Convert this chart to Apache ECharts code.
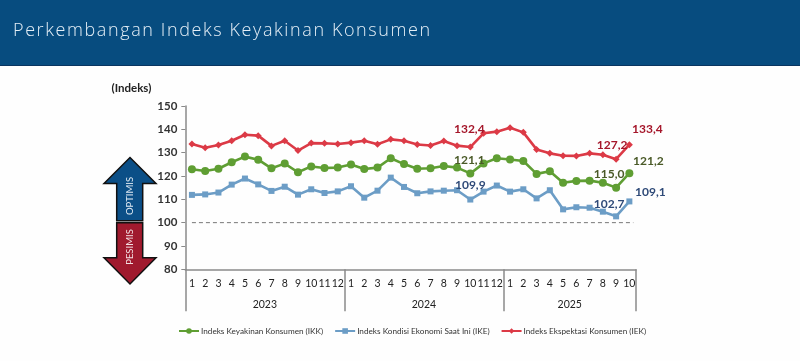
<!DOCTYPE html>
<html>
<head>
<meta charset="utf-8">
<title>Perkembangan Indeks Keyakinan Konsumen</title>
<script src="https://cdn.jsdelivr.net/npm/echarts@6/dist/echarts.min.js"></script>
<style>
    html, body { margin: 0; padding: 0; background: #fff; }
    #wrap { position: relative; width: 800px; height: 361px; overflow: hidden; }
    #chart { position: absolute; left: 0; top: 0; width: 800px; height: 361px; }
    #title {
        position: absolute; left: 13px; top: 17px; margin: 0;
        font: 300 18px "Open Sans", sans-serif; letter-spacing: 1.6px;
        color: #e4eef6; white-space: nowrap;
    }
</style>
</head>
<body>
<div id="wrap">
    <div id="chart"></div>
    <h1 id="title">Perkembangan Indeks Keyakinan Konsumen</h1>
</div>
<script>
    var months = ['1','2','3','4','5','6','7','8','9','10','11','12',
                  '1','2','3','4','5','6','7','8','9','10','11','12',
                  '1','2','3','4','5','6','7','8','9','10'];
    var years = ['2023', '2024', '2025'];
    var yearStart = [0, 12, 24, 34];

    var ikk = [122.9,122.1,123.1,125.9,128.3,127.0,123.3,125.3,121.6,124.1,123.4,123.6,
               124.9,123.0,123.6,127.6,125.1,123.1,123.3,124.3,123.6,121.1,125.4,127.6,
               127.1,126.4,120.9,122.0,117.1,117.9,118.0,117.1,115.0,121.2];
    var ike = [111.9,112.1,112.9,116.3,118.9,116.4,113.6,115.4,112.0,114.3,112.7,113.4,
               115.6,110.7,113.7,119.3,115.3,112.6,113.4,113.7,113.9,109.9,113.3,115.9,
               113.3,114.3,110.4,113.9,105.7,106.6,106.4,104.7,102.7,109.1];
    var iek = [133.7,132.1,133.3,135.1,137.7,137.3,132.9,135.1,130.9,134.1,134.0,133.7,
               134.3,135.1,133.6,135.7,135.1,133.5,133.1,135.0,133.0,132.4,138.3,139.0,
               140.7,138.7,131.4,129.7,128.7,128.6,129.7,129.1,127.2,133.4];

    var baseline = [[0.5, 100], [33.8, 100]];

    // label offsets, index of the month -> [dx, dy]
    var ikkLabels = { 21: [-1, 1], 32: [-7, 0], 33: [19, 2] };
    var ikeLabels = { 21: [0, -1], 32: [-7, 1], 33: [21, 4] };
    var iekLabels = { 21: [-1, -4], 32: [-4, -1], 33: [18, -2] };

    function withLabels(values, labels, color) {
        return values.map(function (v, i) {
            if (!labels[i]) return v;
            return {
                value: v,
                label: {
                    show: true,
                    position: 'top',
                    offset: labels[i],
                    distance: 4,
                    color: color,
                    fontFamily: 'Lato',
                    fontSize: 12,
                    fontWeight: 700,
                    formatter: function (p) { return p.value.toFixed(1).replace('.', ','); }
                }
            };
        });
    }

    function lineSeries(name, values, labels, color, labelColor, symbol, size) {
        return {
            name: name,
            type: 'line',
            data: withLabels(values, labels, labelColor),
            symbol: symbol,
            symbolSize: size,
            showAllSymbol: true,
            lineStyle: { color: color, width: 2.6 },
            itemStyle: { color: color },
            z: 3
        };
    }

    var axisColor = '#8a8a8a';
    var chart = echarts.init(document.getElementById('chart'));

    chart.setOption({
        animation: false,
        backgroundColor: '#fefefe',
        textStyle: { fontFamily: 'Lato' },
        grid: { left: 185.3, top: 106, width: 450.7, height: 163.3 },
        legend: {
            left: 178,
            top: 327,
            itemWidth: 20,
            itemHeight: 7,
            itemGap: 11,
            padding: 0,
            data: ['Indeks Keyakinan Konsumen (IKK)', 'Indeks Kondisi Ekonomi Saat Ini (IKE)', 'Indeks Ekspektasi Konsumen (IEK)'],
            textStyle: { fontFamily: 'Lato', fontSize: 8.2, color: '#333', padding: [0, 0, 0, -3] }
        },
        xAxis: [
            {
                type: 'category',
                data: months,
                axisLine: { lineStyle: { color: axisColor, width: 1.5 } },
                axisTick: { interval: 0, length: 21, lineStyle: { color: axisColor, width: 1 } },
                axisLabel: { interval: 0, margin: 9, fontFamily: 'Lato', fontSize: 10.5, color: '#222' }
            },
            {
                type: 'value',
                position: 'bottom',
                min: 0,
                max: 34,
                splitLine: { show: false },
                axisLine: { show: false },
                axisTick: { customValues: yearStart, length: 42, lineStyle: { color: axisColor, width: 1.5 } },
                axisLabel: {
                    customValues: [6, 18, 29],
                    margin: 30,
                    fontFamily: 'Lato',
                    fontSize: 10.5,
                    color: '#222',
                    formatter: function (v) { return years[[6, 18, 29].indexOf(v)]; }
                }
            }
        ],
        yAxis: {
            type: 'value',
            min: 80,
            max: 150,
            interval: 10,
            name: '(Indeks)',
            nameLocation: 'end',
            nameGap: 12,
            nameTextStyle: { fontFamily: 'Lato', fontSize: 11.5, fontWeight: 'bold', color: '#222', align: 'right', padding: [0, 34, 0, 0] },
            splitLine: { show: false },
            axisLine: { show: true, lineStyle: { color: axisColor, width: 1.5 } },
            axisTick: { show: true, length: 4, lineStyle: { color: axisColor } },
            axisLabel: { margin: 8, fontFamily: 'Lato', fontSize: 11.5, fontWeight: 'bold', color: '#333' }
        },
        series: [
            lineSeries('Indeks Keyakinan Konsumen (IKK)', ikk, ikkLabels, '#5f9e33', '#4a5a28', 'circle', 8),
            lineSeries('Indeks Kondisi Ekonomi Saat Ini (IKE)', ike, ikeLabels, '#6c9dc6', '#2f4a78', 'rect', 6),
            lineSeries('Indeks Ekspektasi Konsumen (IEK)', iek, iekLabels, '#dc3a46', '#a5162a', 'diamond', 7),
            {
                type: 'line',
                xAxisIndex: 1,
                data: baseline,
                symbol: 'none',
                silent: true,
                lineStyle: { color: '#777', width: 1, type: [4, 3] },
                z: 1
            }
        ],
        graphic: [
            { type: 'rect', shape: { x: 0, y: 0, width: 800, height: 65 }, style: { fill: '#074c7f' }, silent: true },
            { type: 'rect', shape: { x: 0, y: 65, width: 800, height: 1 }, style: { fill: '#0a3560' }, silent: true },
            {
                type: 'polygon',
                shape: { points: [[130, 157.5], [156, 183.5], [142.7, 183.5], [142.7, 220.7], [116.7, 220.7], [116.7, 183.5], [104, 183.5]] },
                style: { fill: '#0b4f87', stroke: '#111', lineWidth: 1.5 }
            },
            {
                type: 'polygon',
                shape: { points: [[116.7, 222.7], [142.7, 222.7], [142.7, 257.7], [156, 257.7], [130, 284], [104, 257.7], [116.7, 257.7]] },
                style: { fill: '#a01a2e', stroke: '#111', lineWidth: 1.5 }
            },
            {
                type: 'text', x: 130, y: 196, rotation: Math.PI / 2,
                style: { text: 'OPTIMIS', fill: '#dfe9f2', font: '9.5px Lato', align: 'center', verticalAlign: 'middle' }
            },
            {
                type: 'text', x: 130, y: 247, rotation: Math.PI / 2,
                style: { text: 'PESIMIS', fill: '#f3dfe2', font: '9.5px Lato', align: 'center', verticalAlign: 'middle' }
            }
        ]
    });
</script>
</body>
</html>
